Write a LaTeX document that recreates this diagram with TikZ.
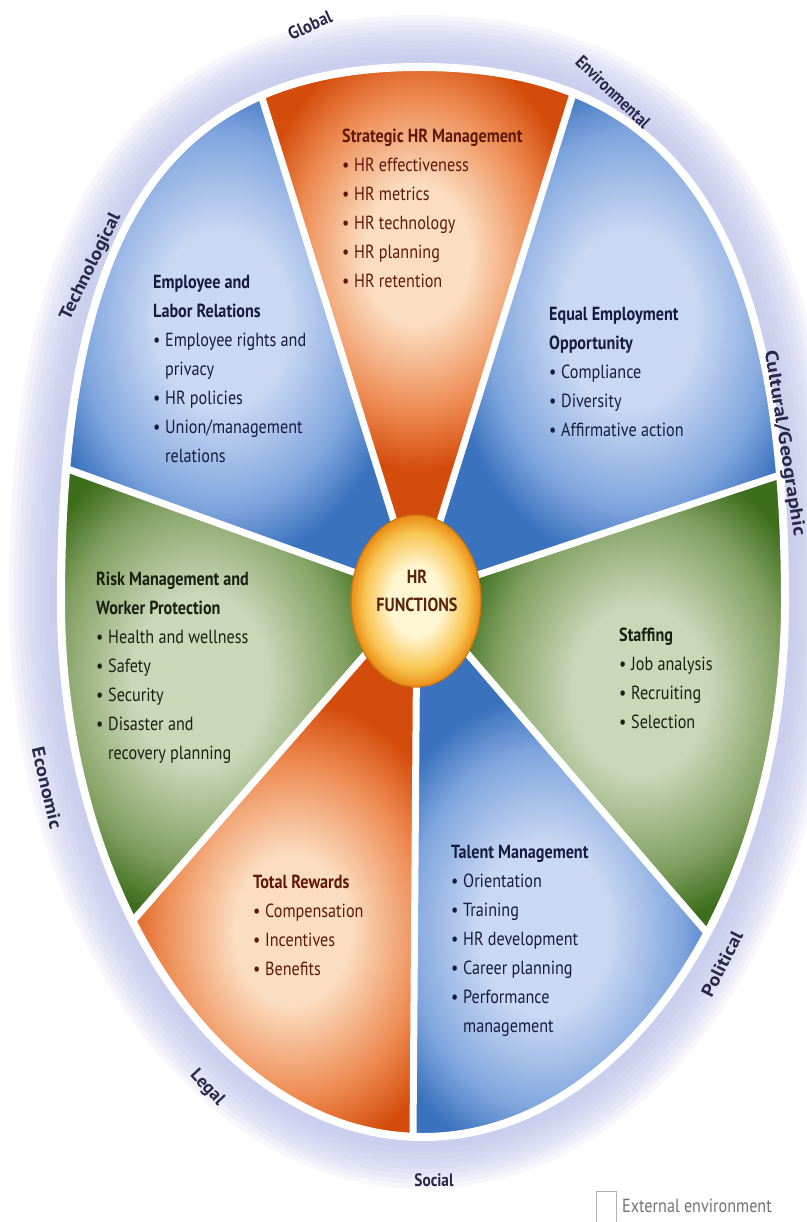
\documentclass[tikz,border=0pt]{standalone}
\usepackage{graphicx}
\usepackage{fontspec}
\setmainfont{PT Sans}[FakeStretch=0.85]
\usetikzlibrary{shapes.geometric,calc}

\definecolor{blueD}{RGB}{58,114,190}
\definecolor{blueM}{RGB}{128,166,222}
\definecolor{blueL}{RGB}{202,216,243}
\definecolor{greenD}{RGB}{60,110,28}
\definecolor{greenM}{RGB}{130,160,98}
\definecolor{greenL}{RGB}{202,215,184}
\definecolor{orD}{RGB}{212,76,12}
\definecolor{orM}{RGB}{238,140,84}
\definecolor{orL}{RGB}{251,222,194}
\definecolor{hubD}{RGB}{234,140,20}
\definecolor{hubM}{RGB}{248,196,80}
\definecolor{hubL}{RGB}{255,247,212}
\definecolor{halo}{RGB}{186,192,234}
\definecolor{txtB}{RGB}{22,28,62}
\definecolor{txtG}{RGB}{26,32,18}
\definecolor{txtO}{RGB}{96,24,10}
\definecolor{txtH}{RGB}{88,36,14}
\definecolor{labC}{RGB}{42,40,74}

\pgfdeclareradialshading{blueglow}{\pgfpoint{0bp}{0bp}}{color(0bp)=(blueL); color(9bp)=(blueL); color(19bp)=(blueM); color(25bp)=(blueD); color(50bp)=(blueD)}
\pgfdeclareradialshading{greenglow}{\pgfpoint{0bp}{0bp}}{color(0bp)=(greenL); color(9bp)=(greenL); color(19bp)=(greenM); color(25bp)=(greenD); color(50bp)=(greenD)}
\pgfdeclareradialshading{orglow}{\pgfpoint{0bp}{0bp}}{color(0bp)=(orL); color(8bp)=(orL); color(18bp)=(orM); color(25bp)=(orD); color(50bp)=(orD)}
\pgfdeclareradialshading{hubglow}{\pgfpoint{0bp}{0bp}}{color(0bp)=(hubL); color(10bp)=(hubL); color(20bp)=(hubM); color(25bp)=(hubD); color(50bp)=(hubD)}

\newcommand{\outl}{(61,602) .. controls (61,227) and (165,67) .. (420,67) .. controls (675,67) and (785,227) .. (785,602) .. controls (785,897) and (623,1137) .. (423,1137) .. controls (223,1137) and (61,897) .. (61,602) -- cycle}
\newcommand{\itm}{\makebox[12pt][l]{•}}
\newcommand{\ind}{\hspace*{12pt}}

\tikzset{
  body/.style={anchor=north west, inner sep=0pt, align=left, font=\fontsize{19}{29}\selectfont},
  lab/.style={inner sep=0pt, text=labC, font=\fontsize{18}{18}\selectfont\bfseries},
  sepline/.style={white, line width=7pt},
}

\begin{document}
\begin{tikzpicture}[x=1pt,y=-1pt]
\useasboundingbox (0,0) rectangle (806,1222);
\fill[white] (0,0) rectangle (806,1222);

% key points
\coordinate (O) at (417,595);
\coordinate (A1) at (262,98);
\coordinate (A2) at (572,97);
\coordinate (B1) at (62,467);
\coordinate (B2) at (780,475);
\coordinate (C1) at (131,923);
\coordinate (C2) at (702,927);
\coordinate (D) at (413,1137);
\coordinate (m1) at ($(A1)!.5!(A2)$);
\coordinate (m2) at ($(A2)!.5!(B2)$);
\coordinate (m3) at ($(B2)!.5!(C2)$);
\coordinate (m4) at ($(C2)!.5!(D)$);
\coordinate (m5) at ($(D)!.5!(C1)$);
\coordinate (m6) at ($(C1)!.5!(B1)$);
\coordinate (m7) at ($(B1)!.5!(A1)$);

% halo (external environment)
\foreach \w in {104,94,84,74,64,54,44,34,24}
  \draw[halo, line width=\w pt, opacity=0.13] \outl;

% wedges
\begin{scope}
  \clip \outl;
  % top orange
  \begin{scope}
    \clip (O) -- ($(O)!3!(A1)$) -- ($(O)!3!(m1)$) -- ($(O)!3!(A2)$) -- cycle;
    \fill[orD] (0,0) rectangle (806,1222);
    \shade[shading=orglow] (417,255) ellipse [x radius=165pt, y radius=215pt];
  \end{scope}
  % right blue
  \begin{scope}
    \clip (O) -- ($(O)!3!(A2)$) -- ($(O)!3!(m2)$) -- ($(O)!3!(B2)$) -- cycle;
    \fill[blueD] (0,0) rectangle (806,1222);
    \shade[shading=blueglow] (630,320) ellipse [x radius=185pt, y radius=245pt];
  \end{scope}
  % right green
  \begin{scope}
    \clip (O) -- ($(O)!3!(B2)$) -- ($(O)!3!(m3)$) -- ($(O)!3!(C2)$) -- cycle;
    \fill[greenD] (0,0) rectangle (806,1222);
    \shade[shading=greenglow] (640,690) ellipse [x radius=190pt, y radius=235pt];
  \end{scope}
  % bottom right blue
  \begin{scope}
    \clip (O) -- ($(O)!3!(C2)$) -- ($(O)!3!(m4)$) -- ($(O)!3!(D)$) -- cycle;
    \fill[blueD] (0,0) rectangle (806,1222);
    \shade[shading=blueglow] (545,930) ellipse [x radius=180pt, y radius=235pt];
  \end{scope}
  % bottom left orange
  \begin{scope}
    \clip (O) -- ($(O)!3!(D)$) -- ($(O)!3!(m5)$) -- ($(O)!3!(C1)$) -- cycle;
    \fill[orD] (0,0) rectangle (806,1222);
    \shade[shading=orglow] (292,930) ellipse [x radius=180pt, y radius=230pt];
  \end{scope}
  % left green
  \begin{scope}
    \clip (O) -- ($(O)!3!(C1)$) -- ($(O)!3!(m6)$) -- ($(O)!3!(B1)$) -- cycle;
    \fill[greenD] (0,0) rectangle (806,1222);
    \shade[shading=greenglow] (200,680) ellipse [x radius=190pt, y radius=240pt];
  \end{scope}
  % left blue
  \begin{scope}
    \clip (O) -- ($(O)!3!(B1)$) -- ($(O)!3!(m7)$) -- ($(O)!3!(A1)$) -- cycle;
    \fill[blueD] (0,0) rectangle (806,1222);
    \shade[shading=blueglow] (222,320) ellipse [x radius=185pt, y radius=245pt];
  \end{scope}
  % separating lines
  \draw[sepline] (O) -- ($(O)!1.2!(A1)$);
  \draw[sepline] (O) -- ($(O)!1.2!(A2)$);
  \draw[sepline] (O) -- ($(O)!1.2!(B1)$);
  \draw[sepline] (O) -- ($(O)!1.2!(B2)$);
  \draw[sepline] (O) -- ($(O)!1.2!(C1)$);
  \draw[sepline] (O) -- ($(O)!1.2!(C2)$);
  \draw[sepline] (O) -- ($(O)!1.2!(D)$);
\end{scope}
\draw[white, line width=8pt] \outl;

% hub
\node[ellipse, shading=hubglow, draw=hubD!85!black, line width=1.2pt, minimum width=130pt, minimum height=172pt, inner sep=0pt] (hub) at (416,601) {};
\node[inner sep=0pt, align=center, text=txtH, font=\fontsize{19}{28}\selectfont\bfseries] (hubtxt) at (417,591) {HR\\FUNCTIONS};

% wedge texts
\node[body, text=txtO] (shrm) at (342,129) {\textbf{Strategic HR Management}\\\itm HR effectiveness\\\itm HR metrics\\\itm HR technology\\\itm HR planning\\\itm HR retention};
\node[body, text=txtB] (elr) at (153,275) {\textbf{Employee and}\\\textbf{Labor Relations}\\\itm Employee rights and\\\ind privacy\\\itm HR policies\\\itm Union/management\\\ind relations};
\node[body, text=txtB] (eeo) at (549,307) {\textbf{Equal Employment}\\\textbf{Opportunity}\\\itm Compliance\\\itm Diversity\\\itm Affirmative action};
\node[body, text=txtG] (risk) at (96,572) {\textbf{Risk Management and}\\\textbf{Worker Protection}\\\itm Health and wellness\\\itm Safety\\\itm Security\\\itm Disaster and\\\ind recovery planning};
\node[body, text=txtG] (staff) at (619,628) {\textbf{Staffing}\\\itm Job analysis\\\itm Recruiting\\\itm Selection};
\node[body, text=txtO] (rew) at (253,875) {\textbf{Total Rewards}\\\itm Compensation\\\itm Incentives\\\itm Benefits};
\node[body, text=txtB] (tal) at (451,845) {\textbf{Talent Management}\\\itm Orientation\\\itm Training\\\itm HR development\\\itm Career planning\\\itm Performance\\\ind management};

% external environment labels
\node[lab, rotate=24] (lglob) at (310,25) {\scalebox{1.09}[1]{Global}};
\node[lab, rotate=-44] (lenv) at (613,92) {Environmental};
\node[lab, rotate=64] (ltech) at (91,267) {\scalebox{1.31}[1]{Technological}};
\node[lab, rotate=-81] (lcult) at (784,443) {\scalebox{1.42}[1]{Cultural/Geographic}};
\node[lab, rotate=-77] (lecon) at (47,788) {\scalebox{1.34}[1]{Economic}};
\node[lab, rotate=-47] (llegal) at (207,1088) {\scalebox{1.18}[1]{Legal}};
\node[lab, rotate=63] (lpol) at (722,964) {\scalebox{1.32}[1]{Political}};
\node[lab] (lsoc) at (434,1180) {Social};

% legend
\node[draw=gray!60, fill=white, line width=0.8pt, minimum width=20pt, minimum height=32pt, inner sep=0pt] (legbox) at (606,1207) {};
\node[anchor=west, inner sep=0pt, text=black!55, font=\fontsize{19}{19}\selectfont] (legtxt) at (622,1206) {External environment};
\end{tikzpicture}
\end{document}
